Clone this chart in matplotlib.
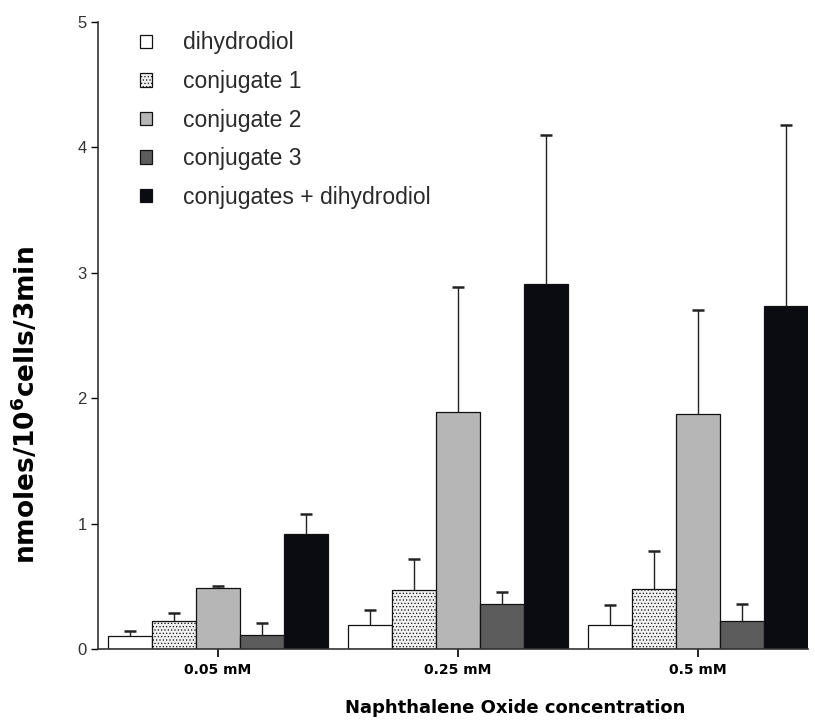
import numpy as np
import matplotlib
matplotlib.use('Agg')
from matplotlib import pyplot as plt

# group labels and series (mean, upward SD)
groups = ['0.05 mM', '0.25 mM', '0.5 mM']
series_names = ['dihydrodiol', 'conjugate 1', 'conjugate 2', 'conjugate 3',
                'conjugates + dihydrodiol']

dihydrodiol = [0.10, 0.19, 0.19]
dihydrodiol_sd = [0.045, 0.12, 0.16]
conj1 = [0.225, 0.47, 0.475]
conj1_sd = [0.06, 0.245, 0.31]
conj2 = [0.485, 1.89, 1.87]
conj2_sd = [0.02, 1.0, 0.83]
conj3 = [0.115, 0.355, 0.22]
conj3_sd = [0.095, 0.10, 0.135]
combined = [0.92, 2.91, 2.735]
combined_sd = [0.16, 1.19, 1.44]

means = [dihydrodiol, conj1, conj2, conj3, combined]
sds = [dihydrodiol_sd, conj1_sd, conj2_sd, conj3_sd, combined_sd]

faces = ['white', '#f0f0f0', '#b6b6b6', '#5c5c5c', '#0b0b12']
hatches = [None, '.....', None, None, None]

plt.rcParams['hatch.linewidth'] = 0.5
plt.rcParams['font.family'] = 'Liberation Sans'

fig = plt.figure(figsize=(8.15, 7.21), dpi=100)
ax = fig.add_axes([0.1202, 0.0999, 0.8712, 0.8696])

x = np.arange(len(groups))
w = 0.183
for i in range(len(means)):
    pos = x + (i - 2) * w
    m = np.array(means[i])
    top = m + np.array(sds[i])
    ax.bar(pos, m, width=w, color=faces[i], edgecolor='#111111',
           linewidth=0.9, hatch=hatches[i], label=series_names[i], zorder=2)
    # upward-only error bars with a cap on top
    ax.vlines(pos, m, top, colors='#222222', linewidth=1.0, zorder=3)
    ax.plot(pos, top, linestyle='none', marker='_', markersize=9,
            markeredgewidth=1.8, color='#222222', zorder=3)

ax.set_xlim(-0.5, 2 + 2.5 * w)
ax.set_ylim(0, 5)
ax.set_yticks([0, 1, 2, 3, 4, 5])
ax.set_xticks(x)
ax.set_xticklabels(groups, fontsize=10, fontweight='bold', family='DejaVu Sans')
ax.tick_params(axis='y', direction='out', length=5, width=1, labelsize=12,
               labelcolor='#333333', pad=3)
ax.tick_params(axis='x', direction='out', length=6, width=1.2, pad=4)

for s in ['top', 'right']:
    ax.spines[s].set_visible(False)
ax.spines['left'].set_linewidth(1.2)
ax.spines['bottom'].set_linewidth(1.2)
ax.spines['left'].set_color('#333333')
ax.spines['bottom'].set_color('#333333')

ax.set_ylabel('nmoles/10$^{\\mathbf{6}}$cells/3min', fontsize=19,
              fontweight='bold', family='DejaVu Sans')
ax.yaxis.set_label_coords(-0.08, 0.389)
ax.set_xlabel('Naphthalene Oxide concentration', fontsize=13,
              fontweight='bold', family='DejaVu Sans')
ax.xaxis.set_label_coords(0.587, -0.08)

leg = ax.legend(loc='upper left', bbox_to_anchor=(0.059, 0.985), frameon=False,
                fontsize=16.5, borderpad=0, borderaxespad=0,
                handlelength=0.53, handleheight=0.53, handletextpad=1.36,
                labelspacing=0.68)
for t in leg.get_texts():
    t.set_color('#2a2a2a')

plt.savefig('out.png', dpi=100)
